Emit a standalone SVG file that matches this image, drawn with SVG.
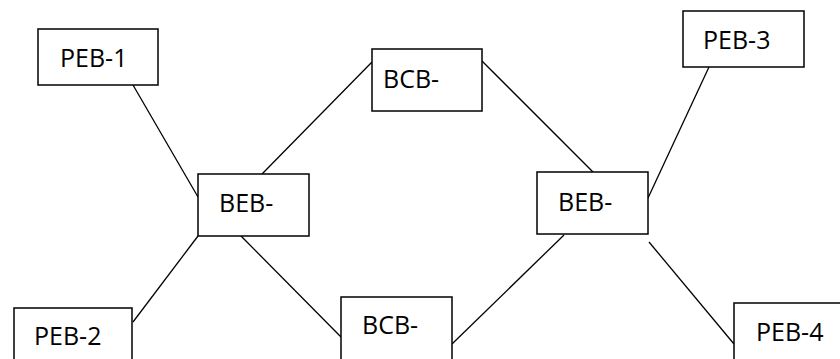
<svg xmlns="http://www.w3.org/2000/svg" width="840" height="359" viewBox="0 0 840 359">
<style>
.box{fill:#fff;stroke:#000;stroke-width:1.5}
.lbl{font-family:"Open Sans","Liberation Sans",sans-serif;font-size:25px;fill:#000}
.ln{stroke:#000;stroke-width:1.3;fill:none}
</style>
<rect width="840" height="359" fill="#fff"/>
<g id="connectors">
<line class="ln" x1="133" y1="85" x2="198" y2="197"/>
<line class="ln" x1="372" y1="62" x2="262" y2="174"/>
<line class="ln" x1="482" y1="61" x2="595" y2="174"/>
<line class="ln" x1="709" y1="67" x2="648" y2="198"/>
<line class="ln" x1="198" y1="236" x2="133" y2="322"/>
<line class="ln" x1="241" y1="236" x2="343" y2="339"/>
<line class="ln" x1="564" y1="235" x2="452" y2="344"/>
<line class="ln" x1="649" y1="242" x2="734" y2="344"/>
</g>
<g id="peb1"><rect class="box" x="38" y="29" width="120" height="56"/><text class="lbl" x="60" y="67">PEB-1</text></g>
<g id="bcb-top"><rect class="box" x="372" y="49" width="110" height="62"/><text class="lbl" x="383" y="88">BCB-</text></g>
<g id="peb3"><rect class="box" x="683" y="11" width="121" height="56"/><text class="lbl" x="703" y="49">PEB-3</text></g>
<g id="beb-left"><rect class="box" x="198" y="174" width="111" height="62"/><text class="lbl" x="219" y="212">BEB-</text></g>
<g id="beb-right"><rect class="box" x="537" y="172" width="111" height="62"/><text class="lbl" x="558" y="211">BEB-</text></g>
<g id="peb2"><rect class="box" x="14" y="308" width="118" height="60"/><text class="lbl" x="34" y="345">PEB-2</text></g>
<g id="bcb-bottom"><rect class="box" x="341" y="297" width="111" height="70"/><text class="lbl" x="362" y="334">BCB-</text></g>
<g id="peb4"><rect class="box" x="734" y="303" width="120" height="70"/><text class="lbl" x="756" y="341">PEB-4</text></g>
</svg>
